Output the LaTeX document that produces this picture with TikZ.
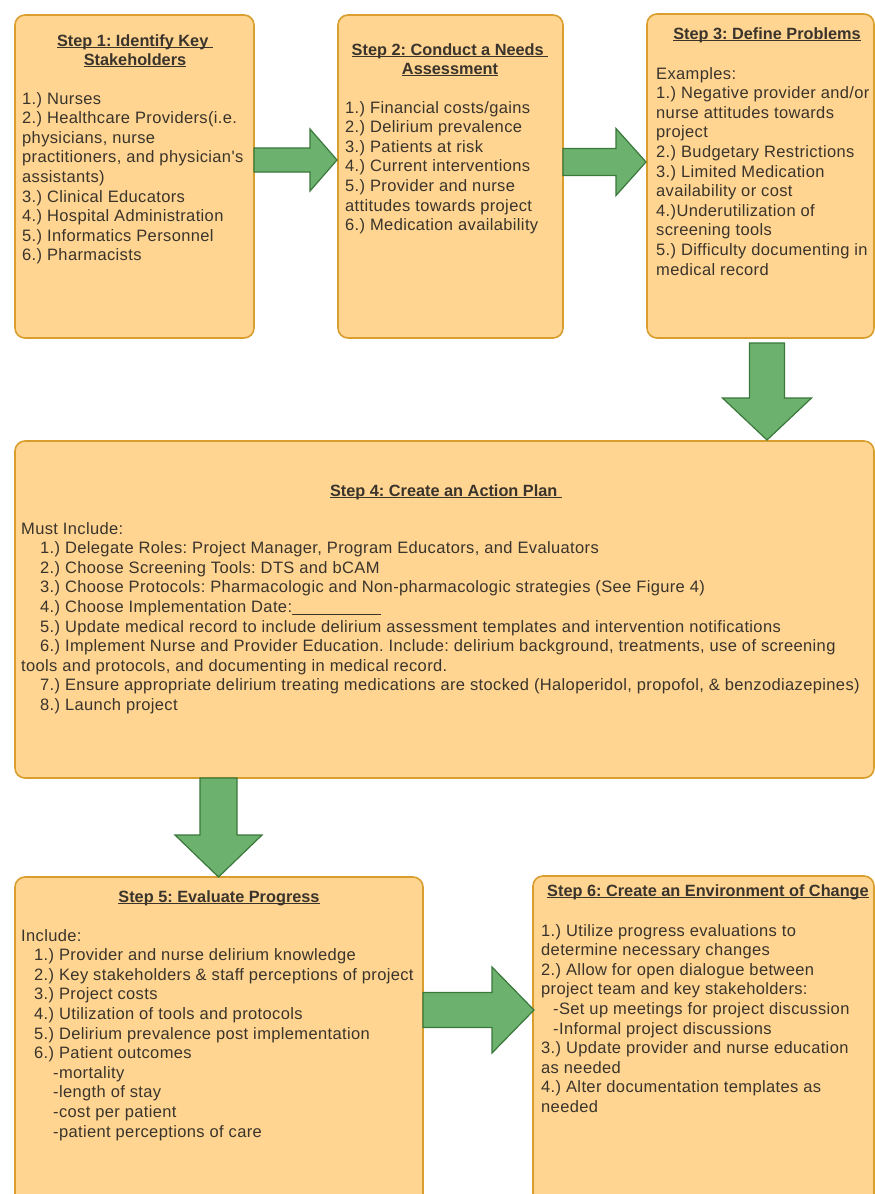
\documentclass[tikz,border=0pt]{standalone}
\usepackage{fontspec}
\setmainfont{Liberation Sans}
\newfontfamily\bodyfont[LetterSpace=2.2]{Liberation Sans}
\usetikzlibrary{calc}
\definecolor{boxfill}{RGB}{255,213,145}
\definecolor{boxline}{RGB}{217,158,46}
\definecolor{arrfill}{RGB}{108,178,110}
\definecolor{arrline}{RGB}{58,120,60}
\definecolor{txt}{RGB}{58,52,44}
\newcommand\uln[1]{\setbox0\hbox{#1}\rlap{\rule[-2.3pt]{\wd0}{1pt}}\box0}
\tikzset{
 stepbox/.style={draw=boxline, fill=boxfill, line width=1.6pt, rounded corners=10pt, inner sep=0pt, outer sep=0pt, anchor=north west},
 garrow/.style={draw=arrline, fill=arrfill, line width=1.2pt, line join=miter},
 titletxt/.style={inner sep=0pt, text=txt, font=\frenchspacing\bfseries\fontsize{16.3}{19}\selectfont, align=center, anchor=north},
 bodytxt/.style={inner sep=0pt, text=txt, font=\frenchspacing\bodyfont\fontsize{16.5}{19.6}\selectfont, align=left, anchor=north west},
}
% horizontal block arrow: start coord, tip coord, body half, head half, head length
\newcommand\hblock[5]{\draw[garrow] let \p1=(#1), \p2=(#2) in
 (\x1,\y2+#3pt) -- (\x2-#5pt,\y2+#3pt) -- (\x2-#5pt,\y2+#4pt) -- (\x2,\y2) -- (\x2-#5pt,\y2-#4pt) -- (\x2-#5pt,\y2-#3pt) -- (\x1,\y2-#3pt) -- cycle;}
% vertical (downward) block arrow
\newcommand\vblock[5]{\draw[garrow] let \p1=(#1), \p2=(#2) in
 (\x2-#3pt,\y1) -- (\x2-#3pt,\y2+#5pt) -- (\x2-#4pt,\y2+#5pt) -- (\x2,\y2) -- (\x2+#4pt,\y2+#5pt) -- (\x2+#3pt,\y2+#5pt) -- (\x2+#3pt,\y1) -- cycle;}
\begin{document}
\begin{tikzpicture}[x=1pt,y=-1pt]
\useasboundingbox (0,0) rectangle (875,1194);
\fill[white] (0,0) rectangle (875,1194);
\clip (0,0) rectangle (875,1194);

% boxes
\node[stepbox, minimum width=239pt, minimum height=323pt] (b1) at (15,15) {};
\node[stepbox, minimum width=225pt, minimum height=323pt] (b2) at (338,15) {};
\node[stepbox, minimum width=227pt, minimum height=324pt] (b3) at (647,14) {};
\node[stepbox, minimum width=859pt, minimum height=337pt] (b4) at (15,441) {};
\node[stepbox, minimum width=408pt, minimum height=330pt] (b5) at (15,877) {};
\node[stepbox, minimum width=341pt, minimum height=331pt] (b6) at (533,876) {};

% titles
\node[titletxt] (h1) at (135,34) {\uln{Step 1: Identify Key }\\\uln{Stakeholders}};
\node[titletxt] (h2) at (450,43) {\uln{Step 2: Conduct a Needs }\\\uln{Assessment}};
\node[titletxt] (h3) at (767,27) {\uln{Step 3: Define Problems}};
\node[titletxt] (h4) at (446,484) {\uln{Step 4: Create an Action Plan }};
\node[titletxt] (h5) at (219,890) {\uln{Step 5: Evaluate Progress}};
\node[titletxt] (h6) at (708,884) {\uln{Step 6: Create an Environment of Change}};

% bodies
\node[bodytxt] (t1) at (22,92) {1.) Nurses\\
2.) Healthcare Providers(i.e.\\
physicians, nurse\\
practitioners, and physician's\\
assistants)\\
3.) Clinical Educators\\
4.) Hospital Administration\\
5.) Informatics Personnel\\
6.) Pharmacists};

\node[bodytxt] (t2) at (345,101) {1.) Financial costs/gains\\
2.) Delirium prevalence\\
3.) Patients at risk\\
4.) Current interventions\\
5.) Provider and nurse\\
attitudes towards project\\
6.) Medication availability};

\node[bodytxt] (t3) at (656,67) {Examples:\\
1.) Negative provider and/or\\
nurse attitudes towards\\
project\\
2.) Budgetary Restrictions\\
3.) Limited Medication\\
availability or cost\\
4.)Underutilization of\\
screening tools\\
5.) Difficulty documenting in\\
medical record};

\node[bodytxt] (t4) at (21,522) {Must Include:\\
\hspace*{19pt}1.) Delegate Roles: Project Manager, Program Educators, and Evaluators\\
\hspace*{19pt}2.) Choose Screening Tools: DTS and bCAM\\
\hspace*{19pt}3.) Choose Protocols: Pharmacologic and Non-pharmacologic strategies (See Figure 4)\\
\hspace*{19pt}4.) Choose Implementation Date:\rule[-2pt]{89pt}{1pt}\\
\hspace*{19pt}5.) Update medical record to include delirium assessment templates and intervention notifications\\
\hspace*{19pt}6.) Implement Nurse and Provider Education. Include: delirium background, treatments, use of screening\\
tools and protocols, and documenting in medical record.\\
\hspace*{19pt}7.) Ensure appropriate delirium treating medications are stocked (Haloperidol, propofol, \& benzodiazepines)\\
\hspace*{19pt}8.) Launch project};

\node[bodytxt] (t5) at (21,929) {Include:\\
\hspace*{13pt}1.) Provider and nurse delirium knowledge\\
\hspace*{13pt}2.) Key stakeholders \& staff perceptions of project\\
\hspace*{13pt}3.) Project costs\\
\hspace*{13pt}4.) Utilization of tools and protocols\\
\hspace*{13pt}5.) Delirium prevalence post implementation\\
\hspace*{13pt}6.) Patient outcomes\\
\hspace*{32pt}-mortality\\
\hspace*{32pt}-length of stay\\
\hspace*{32pt}-cost per patient\\
\hspace*{32pt}-patient perceptions of care};

\node[bodytxt] (t6) at (541,924) {1.) Utilize progress evaluations to\\
determine necessary changes\\
2.) Allow for open dialogue between\\
project team and key stakeholders:\\
\hspace*{12pt}-Set up meetings for project discussion\\
\hspace*{12pt}-Informal project discussions\\
3.) Update provider and nurse education\\
as needed\\
4.) Alter documentation templates as\\
needed};

% connector end points
\coordinate (a12s) at ($(b1.north east)+(0,145)$);
\coordinate (a12t) at ($(b2.north west)+(-1,145)$);
\coordinate (a23s) at ($(b2.north east)+(0,147)$);
\coordinate (a23t) at ($(b3.north west)+(-1,148)$);
\coordinate (a34s) at ($(b3.south west)+(120,5)$);
\coordinate (a34t) at ($(b4.north east)+(-107,-1)$);
\coordinate (a45s) at ($(b4.south west)+(203.5,0)$);
\coordinate (a45t) at ($(b5.north west)+(203.5,0)$);
\coordinate (a56s) at ($(b5.north east)+(0,133)$);
\coordinate (a56t) at ($(b6.north west)+(1,134)$);

\hblock{a12s}{a12t}{12}{31}{27}
\hblock{a23s}{a23t}{13.5}{33.5}{30}
\vblock{a34s}{a34t}{17.5}{44.5}{42}
\vblock{a45s}{a45t}{18.5}{43.5}{42}
\hblock{a56s}{a56t}{17.5}{43}{42}
\end{tikzpicture}
\end{document}
